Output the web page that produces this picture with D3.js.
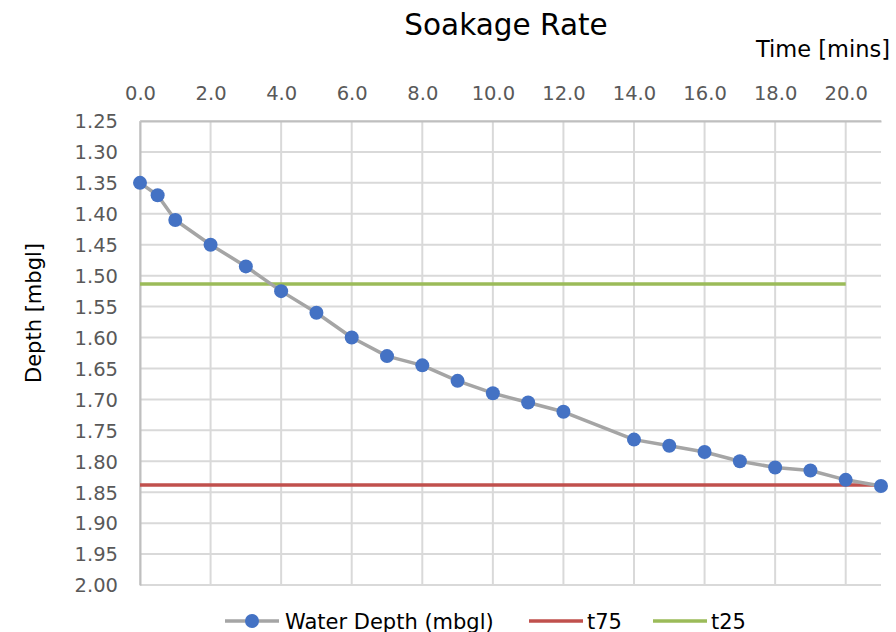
<!DOCTYPE html>
<html>
<head>
<meta charset="utf-8">
<script src="https://cdn.jsdelivr.net/npm/d3@7"></script>
<style>
  body { margin: 0; background: #fff; }
  text { font-family: "DejaVu Sans", Verdana, sans-serif; }
</style>
</head>
<body>
<div class="chart"></div>
<script>
// time in minutes and measured water depth
var times = [0, 0.5, 1, 2, 3, 4, 5, 6, 7, 8, 9, 10, 11, 12, 14, 15, 16, 17, 18, 19, 20, 21];
var depths = [1.35, 1.37, 1.41, 1.45, 1.485, 1.525, 1.56, 1.60, 1.63, 1.645, 1.67, 1.69, 1.705, 1.72,
  1.765, 1.775, 1.785, 1.80, 1.81, 1.815, 1.83, 1.84];
// threshold lines
var t75 = { value: 1.8385, from: 0, to: 21 };
var t25 = { value: 1.5135, from: 0, to: 20 };
var xTicks = [0, 2, 4, 6, 8, 10, 12, 14, 16, 18, 20];
var yTicks = d3.range(1.25, 2.001, 0.05);

var width = 896, height = 632;
var pLeft = 140, pRight = 881, pTop = 121, pBottom = 585;

var svg = d3.select('.chart')
  .append('svg')
    .attr('width', width)
    .attr('height', height);

var x = d3.scaleLinear().domain([0, 21]).range([pLeft, pRight]);
var y = d3.scaleLinear().domain([1.25, 2.0]).range([pTop, pBottom]);

// gridlines
svg.append('g')
  .selectAll('line')
  .data(yTicks)
  .enter()
    .append('line')
    .attr('x1', pLeft).attr('x2', pRight)
    .attr('y1', d => y(d))
    .attr('y2', d => y(d))
    .attr('stroke', '#d9d9d9')
    .attr('stroke-width', 2);

svg.append('g')
  .selectAll('line')
  .data(xTicks)
  .enter()
    .append('line')
    .attr('y1', pTop).attr('y2', pBottom)
    .attr('x1', d => x(d))
    .attr('x2', d => x(d))
    .attr('stroke', '#d9d9d9')
    .attr('stroke-width', 2);

// axes
var xAxis = svg.append('g')
  .attr('transform', 'translate(0,' + pTop + ')')
  .call(d3.axisTop(x).tickValues(xTicks).tickSize(0).tickPadding(21).tickFormat(d3.format('.1f')));
var yAxis = svg.append('g')
  .attr('transform', 'translate(' + pLeft + ',0)')
  .call(d3.axisLeft(y).tickValues(yTicks).tickSize(0).tickPadding(22).tickFormat(d3.format('.2f')));

[xAxis, yAxis].forEach(function(a) {
  a.select('.domain').attr('stroke', '#bfbfbf').attr('stroke-width', 2);
  a.selectAll('text')
    .attr('fill', '#595959')
    .style('font-size', '19.5px')
    .style('font-family', '"DejaVu Sans", Verdana, sans-serif');
});
yAxis.selectAll('text').attr('dy', '0.35em');

// threshold lines
[[t75, '#c0504d'], [t25, '#9bbb59']].forEach(function(t) {
  svg.append('line')
    .attr('x1', x(t[0].from)).attr('x2', x(t[0].to))
    .attr('y1', y(t[0].value)).attr('y2', y(t[0].value))
    .attr('stroke', t[1])
    .attr('stroke-width', 3.5);
});

// water depth series
var pts = times.map((t, i) => [t, depths[i]]);
svg.append('path')
  .datum(pts)
  .attr('fill', 'none')
  .attr('stroke', '#a5a5a5')
  .attr('stroke-width', 3.5)
  .attr('stroke-linejoin', 'round')
  .attr('d', d3.line().x(d => x(d[0])).y(d => y(d[1])));

svg.append('g')
  .selectAll('circle')
  .data(pts)
  .enter()
    .append('circle')
    .attr('cx', d => x(d[0]))
    .attr('cy', d => y(d[1]))
    .attr('r', 7)
    .attr('fill', '#4472c4');

// titles
svg.append('text')
  .attr('x', 506).attr('y', 35)
  .attr('text-anchor', 'middle')
  .style('font-size', '29.5px')
  .attr('fill', '#000')
  .text('Soakage Rate');

svg.append('text')
  .attr('x', 890).attr('y', 57)
  .attr('text-anchor', 'end')
  .style('font-size', '22.5px')
  .attr('fill', '#000')
  .text('Time [mins]');

svg.append('text')
  .attr('transform', 'translate(41,' + 313 + ') rotate(-90)')
  .attr('text-anchor', 'middle')
  .style('font-size', '21px')
  .attr('fill', '#000')
  .text('Depth [mbgl]');

// legend
var legend = [
  { label: 'Water Depth (mbgl)', color: '#a5a5a5', x: 225, dot: true },
  { label: 't75', color: '#c0504d', x: 529 },
  { label: 't25', color: '#9bbb59', x: 653 }
];
var ly = 621;
var lg = svg.append('g')
  .selectAll('g')
  .data(legend)
  .enter()
    .append('g')
    .attr('transform', d => 'translate(' + d.x + ',' + ly + ')');

lg.append('line')
  .attr('x1', 0).attr('x2', 54)
  .attr('stroke', d => d.color)
  .attr('stroke-width', 3.5);
lg.filter(d => d.dot)
  .append('circle')
  .attr('cx', 27).attr('r', 7)
  .attr('fill', '#4472c4');
lg.append('text')
  .attr('x', d => d.dot ? 60 : 58)
  .attr('y', 0)
  .attr('dy', '0.36em')
  .style('font-size', '21px')
  .attr('fill', '#000')
  .text(d => d.label);
</script>
</body>
</html>
